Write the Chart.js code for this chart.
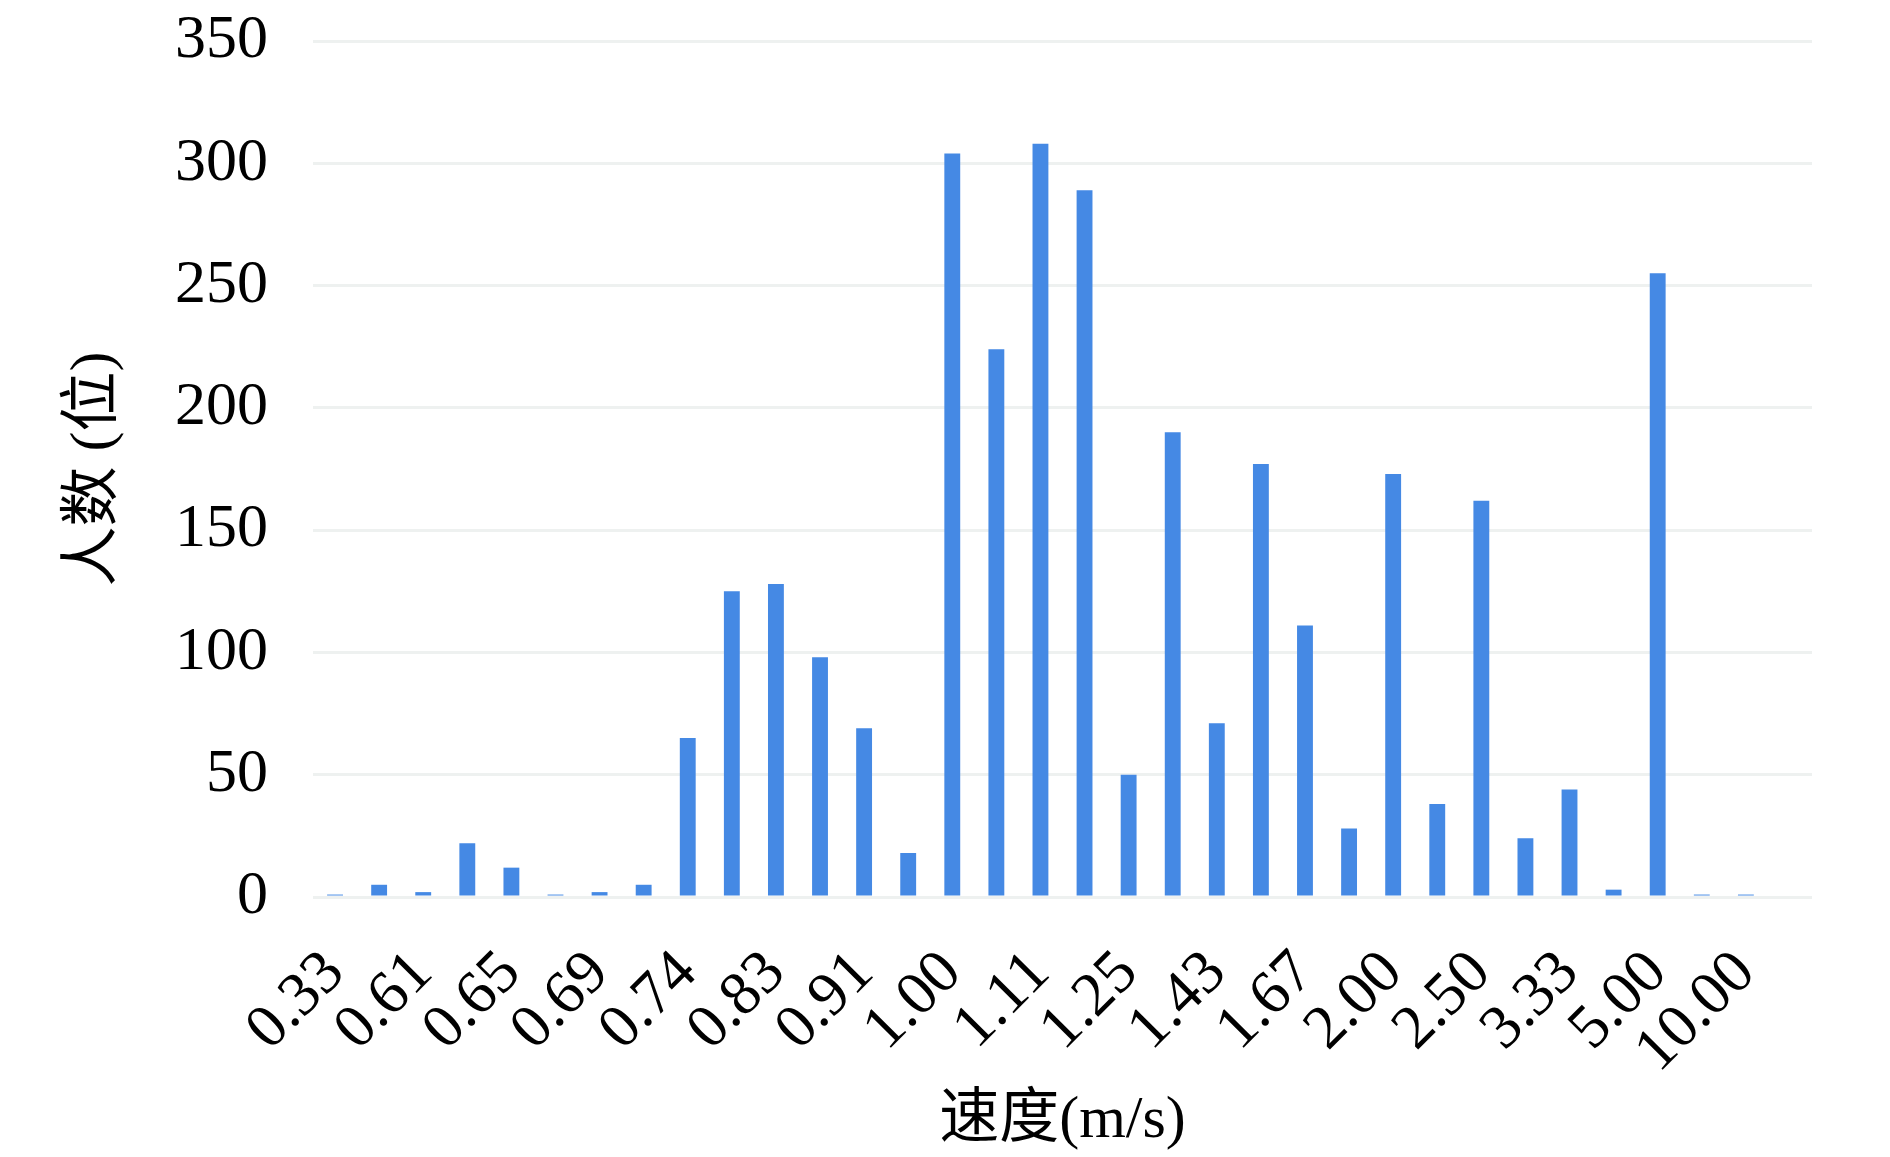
<!DOCTYPE html>
<html>
<head>
<meta charset="utf-8">
<script src="https://cdn.jsdelivr.net/npm/chart.js@4.4.1/dist/chart.umd.min.js"></script>
<style>
  html, body { margin: 0; padding: 0; background: #fff; }
  .chart-box { width: 1890px; height: 1157px; position: relative; }
</style>
</head>
<body>
<div class="chart-box">
  <canvas id="speedChart"></canvas>
</div>
<script>
// data
const speeds = [
  "0.33", "0.59", "0.61", "0.63", "0.65", "0.67", "0.69", "0.71", "0.74", "0.77",
  "0.83", "0.87", "0.91", "0.95", "1.00", "1.05", "1.11", "1.18", "1.25", "1.33",
  "1.43", "1.54", "1.67", "1.82", "2.00", "2.22", "2.50", "2.86", "3.33", "4.00",
  "5.00", "6.67", "10.00", ""
];
const counts = [
  1, 5, 2, 22, 12, 1, 2, 5, 65, 125,
  128, 98, 69, 18, 304, 224, 308, 289, 50, 190,
  71, 177, 111, 28, 173, 38, 162, 24, 44, 3,
  255, 1, 1, null
];
const yTicks = [0, 50, 100, 150, 200, 250, 300, 350];

const xTitle = "速度(m/s)";
const yTitle = "人数 (位)";

const fontFamily = '"Liberation Serif", "Times New Roman", "Noto Sans CJK SC", serif';
const gridColor = "#eef1f0";

const ctx = document.getElementById("speedChart").getContext("2d");

new Chart(ctx, {
  type: "bar",
  data: {
    labels: speeds,
    datasets: [
      {
        data: counts,
        backgroundColor: "#4589e4",
        borderWidth: 0,
        categoryPercentage: 1,
        barPercentage: 0.36,
      },
    ],
  },
  options: {
    responsive: true,
    maintainAspectRatio: false,
    devicePixelRatio: 1,
    animation: false,
    layout: {
      padding: { left: 0, right: 78, top: 41, bottom: 0 },
    },
    plugins: {
      legend: { display: false },
      tooltip: { enabled: false },
    },
    scales: {
      x: {
        grid: { display: false },
        border: { display: false },
        ticks: {
          autoSkip: false,
          minRotation: 45,
          maxRotation: 45,
          padding: 32,
          color: "#000",
          font: { family: fontFamily, size: 62 },
          callback: function (value, index) {
            return index % 2 === 0 ? speeds[index] : "";
          },
        },
        title: {
          display: true,
          text: xTitle,
          color: "#000",
          font: { family: fontFamily, size: 60 },
          padding: { top: 0, bottom: 0 },
        },
        afterFit: function (scale) {
          scale.height = 260;
        },
      },
      y: {
        min: yTicks[0],
        max: yTicks[yTicks.length - 1],
        grid: {
          color: gridColor,
          lineWidth: 3,
          drawTicks: false,
        },
        border: { display: false },
        ticks: {
          stepSize: yTicks[1] - yTicks[0],
          padding: 45,
          color: "#000",
          font: { family: fontFamily, size: 62 },
        },
        title: {
          display: true,
          text: yTitle,
          color: "#000",
          font: { family: fontFamily, size: 60 },
          padding: { top: 59, bottom: 0 },
        },
        afterFit: function (scale) {
          scale.width = 313;
          // tick padding would otherwise push the plot area down
          scale.paddingTop = 0;
          scale.paddingBottom = 0;
        },
      },
    },
  },
});
</script>
</body>
</html>
